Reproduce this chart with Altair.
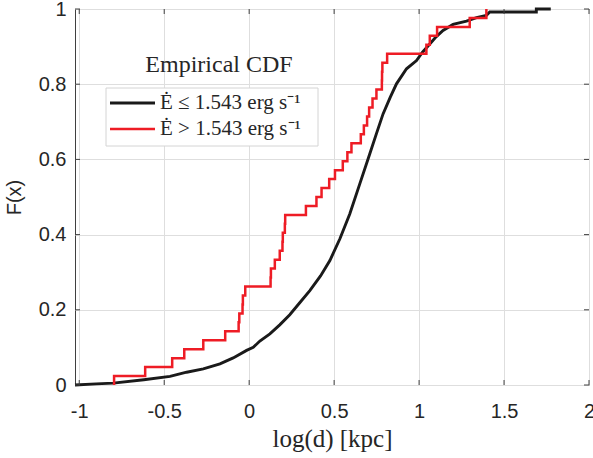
import altair as alt
import pandas as pd
import numpy as np

# ---- data ----
red_samples = [-0.795, -0.612, -0.453, -0.382, -0.27, -0.141, -0.062, -0.058,
               -0.039, -0.037, -0.023, 0.126, 0.128, 0.151, 0.18, 0.196, 0.198,
               0.21, 0.212, 0.334, 0.396, 0.426, 0.471, 0.505, 0.551, 0.578,
               0.602, 0.657, 0.675, 0.694, 0.706, 0.726, 0.749, 0.781, 0.782,
               0.784, 0.812, 1.043, 1.063, 1.106, 1.298, 1.396]

black_x = [-1.025, -0.9, -0.8, -0.62, -0.466, -0.368, -0.27, -0.172, -0.094,
           -0.015, 0.024, 0.063, 0.122, 0.18, 0.239, 0.3, 0.357, 0.42, 0.475,
           0.534, 0.592, 0.651, 0.71, 0.75, 0.788, 0.83, 0.867, 0.926, 0.985,
           1.02, 1.063, 1.1, 1.141, 1.2, 1.279, 1.338, 1.396, 1.416, 1.69, 1.69,
           1.775]
black_f = [0.0, 0.003, 0.005, 0.014, 0.023, 0.034, 0.043, 0.056, 0.072,
           0.092, 0.1, 0.117, 0.136, 0.16, 0.187, 0.22, 0.251, 0.29, 0.331,
           0.389, 0.455, 0.535, 0.615, 0.67, 0.721, 0.765, 0.801, 0.841, 0.863,
           0.885, 0.907, 0.926, 0.943, 0.959, 0.968, 0.977, 0.983, 0.992, 0.992,
           1.0, 1.0]

x_ticks = [-1, -0.5, 0, 0.5, 1, 1.5, 2]
y_ticks = [0, 0.2, 0.4, 0.6, 0.8, 1]
labels = ["Ė ≤ 1.543 erg s⁻¹", "Ė > 1.543 erg s⁻¹"]
colors = ["#1a1a1a", "#ee1c25"]
legend_title = "Empirical CDF"
x_title = "log(d) [kpc]"
y_title = "F(x)"

# ---- tables ----
n = len(red_samples)
red_df = pd.DataFrame({
    "x": [red_samples[0]] + red_samples,
    "F": [0.0] + [(i + 1) / n for i in range(n)],
    "order": list(range(n + 1)),
})
black_df = pd.DataFrame({"x": black_x, "F": black_f,
                         "order": list(range(len(black_x)))})
xt_df = pd.DataFrame({"x": x_ticks})
yt_df = pd.DataFrame({"F": y_ticks})
leg_df = pd.DataFrame({"label": labels, "color": colors})
title_df = pd.DataFrame({"t": [legend_title]})

W, H = 514, 376
TXT = "#262626"
xs = alt.Scale(domain=[-1.025, 2], nice=False, zero=False)
ys = alt.Scale(domain=[0, 1], nice=False, zero=False)

x_axis = alt.Axis(values=x_ticks, labelExpr="datum.value + ''", tickSize=0,
                  labelPadding=16, grid=True, gridColor="#dedede", domain=False,
                  labelFont="Liberation Sans", labelFontSize=20, labelColor=TXT,
                  labelFlush=False, labelOverlap=False,
                  title=x_title, titleFont="Liberation Serif", titleFontSize=25,
                  titleFontWeight="normal", titleColor=TXT, titleY=61,
                  titleBaseline="alphabetic")
y_axis = alt.Axis(values=y_ticks, labelExpr="datum.value + ''", tickSize=0,
                  labelPadding=9, grid=True, gridColor="#dedede", domain=False,
                  labelFont="Liberation Sans", labelFontSize=20, labelColor=TXT,
                  labelOverlap=False,
                  title=y_title, titleFont="Liberation Sans", titleFontSize=20,
                  titleFontWeight="normal", titleColor=TXT, titleX=-61,
                  titleY=H / 2, titleAngle=270, titleAlign="center",
                  titleBaseline="middle")


def X(field):
    return alt.X(f"{field}:Q", scale=xs, axis=x_axis)


def Y(field):
    return alt.Y(f"{field}:Q", scale=ys, axis=y_axis)


black = alt.Chart(black_df).mark_line(color=colors[0], strokeWidth=2.9).encode(
    x=X("x"), y=Y("F"), order="order:Q")
red = alt.Chart(red_df).mark_line(color=colors[1], strokeWidth=2.5,
                                  interpolate="step-after").encode(
    x=X("x"), y=Y("F"), order="order:Q")

tick_style = dict(color="#404040", strokeWidth=1)
tb = alt.Chart(xt_df).mark_rule(**tick_style).encode(
    x=X("x"), y=alt.value(H), y2=alt.value(H - 5))
tt = alt.Chart(xt_df).mark_rule(**tick_style).encode(
    x=X("x"), y=alt.value(0), y2=alt.value(5))
tl = alt.Chart(yt_df).mark_rule(**tick_style).encode(
    y=Y("F"), x=alt.value(0), x2=alt.value(5))
tr = alt.Chart(yt_df).mark_rule(**tick_style).encode(
    y=Y("F"), x=alt.value(W), x2=alt.value(W - 5))

# legend (MATLAB style: title above a boxed list)
leg_box = alt.Chart(title_df).mark_rect(fill="white", stroke="#d4d4d4",
                                        strokeWidth=1).encode(
    x=alt.value(31), x2=alt.value(243), y=alt.value(79), y2=alt.value(137))
leg_title = alt.Chart(title_df).mark_text(font="Liberation Serif", fontSize=24,
                                          color=TXT, align="center",
                                          baseline="middle").encode(
    text="t:N", x=alt.value(144), y=alt.value(56))
leg_layers = []
for i, yy in enumerate([94, 120]):
    row = leg_df.iloc[[i]]
    leg_layers.append(alt.Chart(row).mark_rule(color=colors[i],
                                               strokeWidth=2.9 if i == 0 else 2.5).encode(
        x=alt.value(35), x2=alt.value(80), y=alt.value(yy)))
    leg_layers.append(alt.Chart(row).mark_text(font="Liberation Serif",
                                               fontSize=21, color=TXT,
                                               align="left",
                                               baseline="middle").encode(
        text="label:N", x=alt.value(85), y=alt.value(yy)))

chart = alt.layer(black, red, tb, tt, tl, tr, leg_box, leg_title, *leg_layers).properties(
    width=W, height=H,
    padding={"left": 75, "top": 9, "right": 4, "bottom": 73},
    autosize=alt.AutoSizeParams(type="none"),
    background="white",
).configure_view(stroke="#404040", strokeWidth=1)

chart.save("out.html", embed_options={"renderer": "svg", "actions": False})
